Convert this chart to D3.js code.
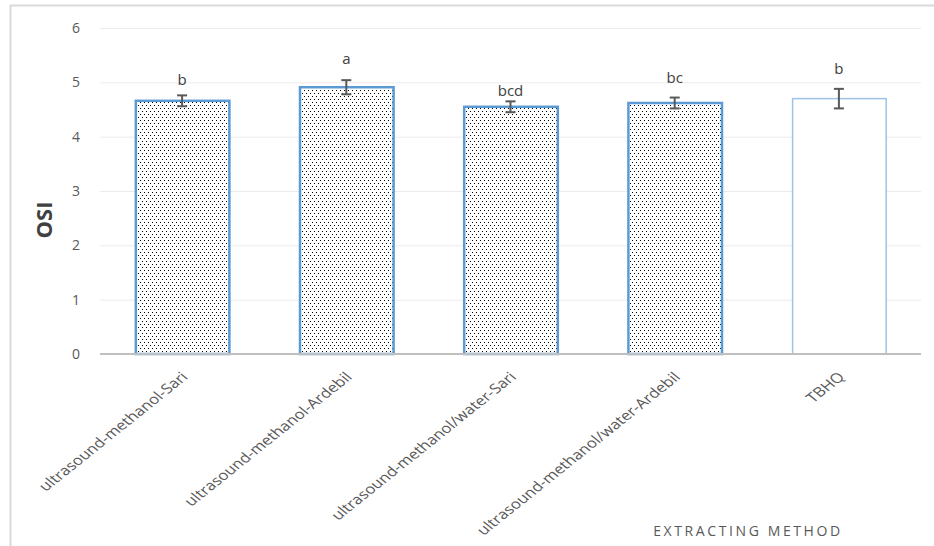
<!DOCTYPE html>
<html><head><meta charset="utf-8">
<script src="https://cdn.jsdelivr.net/npm/d3@7"></script>
<style>body{margin:0;background:#fff}svg{display:block}</style>
</head><body>
<svg id="chart" width="934" height="546"></svg>
<script>
const categories = ["ultrasound-methanol-Sari","ultrasound-methanol-Ardebil","ultrasound-methanol/water-Sari","ultrasound-methanol/water-Ardebil","TBHQ"];
const values = [4.66, 4.91, 4.55, 4.62, 4.70];
const errors = [0.10, 0.13, 0.10, 0.10, 0.18];
const letters = ["b","a","bcd","bc","b"];
const labelValues = [5.07, 5.44, 4.85, 5.10, 5.26];
const patterned = [true, true, true, true, false];
const yTicks = [0,1,2,3,4,5,6];

const svg = d3.select("#chart");
const M = {left:100, right:13, top:28, bottom:192};
const W = 934, H = 546;
const x = d3.scaleBand().domain(categories).range([M.left, W - M.right]).paddingInner(0.43).paddingOuter(0.215);
const y = d3.scaleLinear().domain([0,6]).range([H - M.bottom, M.top]);
const FONT = "'Open Sans', 'DejaVu Sans', sans-serif";

// frame
svg.append("line").attr("x1",10.5).attr("x2",10.5).attr("y1",5).attr("y2",546).attr("stroke","#d9d9d9").attr("stroke-width",2);
svg.append("line").attr("x1",10).attr("x2",934).attr("y1",5.5).attr("y2",5.5).attr("stroke","#d9d9d9").attr("stroke-width",2);

// pattern
const defs = svg.append("defs");
const pat = defs.append("pattern").attr("id","dots").attr("patternUnits","userSpaceOnUse").attr("width",4).attr("height",6);
pat.append("rect").attr("width",4).attr("height",6).attr("fill","#fff");
pat.append("rect").attr("x",0).attr("y",0).attr("width",1).attr("height",1).attr("fill","#000");
pat.append("rect").attr("x",2).attr("y",3).attr("width",1).attr("height",1).attr("fill","#000");

// grid
const ya = d3.axisLeft(y).tickValues(yTicks).tickSize(-(W - M.right - M.left)).tickFormat(d3.format("d")).tickPadding(20);
const gy = svg.append("g").attr("transform",`translate(${M.left},0)`).call(ya);
gy.select(".domain").remove();
gy.selectAll(".tick line").attr("stroke","#ebebeb");
gy.selectAll(".tick text").attr("fill","#595959").style("font-family",FONT).style("font-size","14px");
gy.selectAll(".tick").filter(d=>d===0).select("line").remove();

// bars
svg.selectAll("rect.bar").data(categories).join("rect").attr("class","bar")
  .attr("x",d=>x(d)+0.5).attr("width",x.bandwidth())
  .attr("y",(d,i)=>y(values[i])).attr("height",(d,i)=>y(0)-y(values[i]))
  .attr("fill",(d,i)=>patterned[i]?"url(#dots)":"#fff")
  .attr("stroke",(d,i)=>patterned[i]?"#5b9bd5":"#9dc3e6")
  .attr("stroke-width",(d,i)=>patterned[i]?2.5:1.5);

// x axis line
svg.append("line").attr("x1",M.left).attr("x2",W-M.right).attr("y1",y(0)).attr("y2",y(0)).attr("stroke","#bfbfbf").attr("stroke-width",2);

// error bars
const eg = svg.append("g").attr("stroke","#595959").attr("stroke-width",2);
categories.forEach((c,i)=>{
  const cx = x(c)+x.bandwidth()/2;
  eg.append("line").attr("x1",cx).attr("x2",cx).attr("y1",y(values[i]+errors[i])).attr("y2",y(values[i]-errors[i]));
  [values[i]+errors[i], values[i]-errors[i]].forEach(v=>{
    eg.append("line").attr("x1",cx-5).attr("x2",cx+5).attr("y1",y(v)).attr("y2",y(v));
  });
});

// letters
svg.selectAll("text.lt").data(categories).join("text").attr("class","lt")
  .attr("x",d=>x(d)+x.bandwidth()/2).attr("y",(d,i)=>y(labelValues[i]))
  .attr("text-anchor","middle").attr("dominant-baseline","central")
  .attr("fill","#404040").style("font-family",FONT).style("font-size","15px")
  .text((d,i)=>letters[i]);

// x tick labels (slightly stretched horizontally, as in the reference)
svg.selectAll("text.xl").data(categories).join("text").attr("class","xl")
  .attr("transform",d=>`translate(${x(d)+x.bandwidth()/2+2},${y(0)+20}) scale(1.25,1) rotate(-45)`)
  .attr("text-anchor","end").attr("dominant-baseline","central")
  .attr("fill","#595959").style("font-family",FONT).style("font-size","13.5px")
  .text(d=>d);

// axis titles
svg.append("text").attr("transform","translate(43,220) rotate(-90)").attr("text-anchor","middle").attr("dominant-baseline","central")
  .attr("fill","#404040").style("font-family",FONT).style("font-size","22px").style("font-weight","bold").text("OSI");
svg.append("text").attr("x",748).attr("y",530).attr("text-anchor","middle").attr("dominant-baseline","central")
  .attr("fill","#595959").style("font-family",FONT).style("font-size","14px").style("letter-spacing","2.6px").text("EXTRACTING METHOD");
</script>
</body></html>
